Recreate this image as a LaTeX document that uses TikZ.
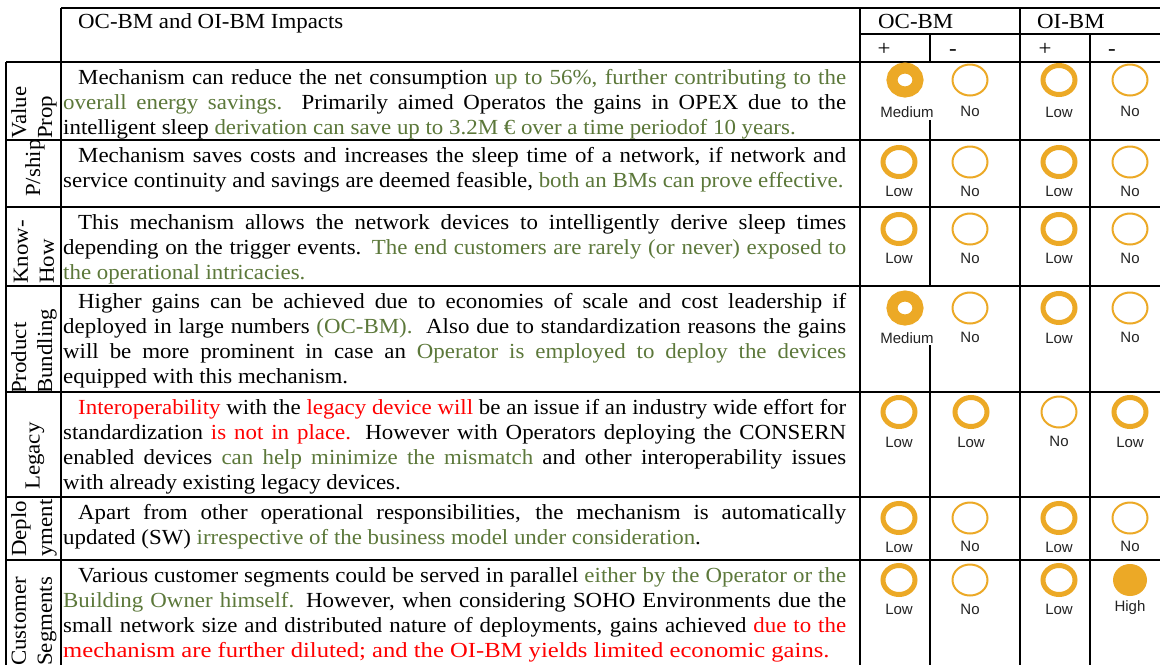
\documentclass[tikz,border=0pt]{standalone}
\usepackage{fontspec}
\setmainfont[FakeStretch=1.065]{Liberation Serif}
\newfontfamily\labfont{Liberation Sans}
\usetikzlibrary{shapes.geometric}
\definecolor{ora}{RGB}{236,169,38}
\definecolor{grn}{RGB}{92,120,58}
\definecolor{redt}{RGB}{255,0,0}
\definecolor{labc}{RGB}{35,35,35}
\newcommand{\gtx}[1]{\textcolor{grn}{#1}}
\newcommand{\rtx}[1]{\textcolor{redt}{#1}}
\newcommand{\jline}[1]{\makebox[783pt][s]{#1}}
\newcommand{\fline}[1]{\makebox[783pt][s]{\strut\hspace*{15pt}#1}}
\newcommand{\eline}[1]{\makebox[783pt][l]{#1}}
\begin{document}
\begin{tikzpicture}[x=1pt,y=-1pt,
  gridl/.style={line width=1.8pt, black},
  body/.style={anchor=north west, inner sep=0pt, align=left, font=\fontsize{21.5}{25}\selectfont},
  rowlab/.style={rotate=90, anchor=west, inner sep=0pt, align=left, font=\fontsize{21.5}{26}\selectfont},
  hdr/.style={anchor=base west, inner sep=0pt, font=\fontsize{21.5}{25}\selectfont},
  hsign/.style={anchor=base, inner sep=0pt, font=\fontsize{21.5}{25}\selectfont},
  lowc/.style={ellipse, draw=ora, line width=5pt, minimum width=32pt, minimum height=29pt, inner sep=0pt},
  noc/.style={ellipse, draw=ora, line width=2pt, minimum width=35pt, minimum height=31pt, inner sep=0pt},
  medc/.style={ellipse, draw=ora, line width=11pt, minimum width=26pt, minimum height=24pt, inner sep=0pt},
  highc/.style={ellipse, fill=ora, minimum width=34pt, minimum height=32pt, inner sep=0pt},
  lab/.style={inner sep=0pt, font=\labfont\fontsize{15}{15}\selectfont, text=labc}]
\useasboundingbox (0,0) rectangle (1160,665);
\fill[white] (0,0) rectangle (1160,665);

% grid
\draw[gridl] (61,8) -- (1160,8);
\draw[gridl] (61,8) -- (61,665);
\draw[gridl] (860,8) -- (860,665);
\draw[gridl] (1020,8) -- (1020,665);
\draw[gridl] (860,34) -- (1160,34);
\draw[gridl] (930,34) -- (930,62);
\draw[gridl] (930,120) -- (930,286);
\draw[gridl] (930,345) -- (930,665);
\draw[gridl] (1090,34) -- (1090,665);
\draw[gridl] (6,62) -- (6,665);
\foreach \yy in {62,140,207,286,392,497,560} {\draw[gridl] (6,\yy) -- (1160,\yy);}

% header
\node[hdr] (h0) at (78,28) {OC-BM and OI-BM Impacts};
\node[hdr] (h1) at (878,28) {OC-BM};
\node[hdr] (h2) at (1037,28) {OI-BM};
\node[hsign] (s1) at (884,55) {+};
\node[hsign] (s2) at (953,55) {-};
\node[hsign] (s3) at (1045,55) {+};
\node[hsign] (s4) at (1112,55) {-};

% row labels
\node[rowlab] (r1) at (34,139) {Value\\Prop};
\node[rowlab] (r2) at (35,197) {P/ship};
\node[rowlab] (r3) at (34,284) {Know-\\How};
\node[rowlab] (r4) at (34,394) {Product\\Bundling};
\node[rowlab] (r5) at (35,490) {Legacy};
\node[rowlab] (r6) at (34,557) {Deplo\\yment};
\node[rowlab] (r7) at (34,666) {Customer\\Segments};

% body texts
\node[body] (t1) at (63,66.5) {\fline{Mechanism can reduce the net consumption \gtx{up to 56\%, further contributing to the}}\\
\jline{\gtx{overall energy savings.} Primarily aimed Operatos the gains in OPEX due to the}\\
\eline{intelligent sleep \gtx{derivation can save up to 3.2M € over a time periodof 10 years.}}};
\node[body] (t2) at (63,144.5) {\fline{Mechanism saves costs and increases the sleep time of a network, if network and}\\
\eline{service continuity and savings are deemed feasible, \gtx{both an BMs can prove effective.}}};
\node[body] (t3) at (63,211.5) {\fline{This mechanism allows the network devices to intelligently derive sleep times}\\
\jline{depending on the trigger events. \gtx{The end customers are rarely (or never) exposed to}}\\
\eline{\gtx{the operational intricacies.}}};
\node[body] (t4) at (63,290.5) {\fline{Higher gains can be achieved due to economies of scale and cost leadership if}\\
\jline{deployed in large numbers \gtx{(OC-BM).}\ \ Also due to standardization reasons the gains}\\
\jline{will be more prominent in case an \gtx{Operator is employed to deploy the devices}}\\
\eline{equipped with this mechanism.}};
\node[body] (t5) at (63,396.5) {\fline{\rtx{Interoperability} with the \rtx{legacy device will} be an issue if an industry wide effort for}\\
\jline{standardization \rtx{is not in place.} However with Operators deploying the CONSERN}\\
\jline{enabled devices \gtx{can help minimize the mismatch} and other interoperability issues}\\
\eline{with already existing legacy devices.}};
\node[body] (t6) at (63,501.5) {\fline{Apart from other operational responsibilities, the mechanism is automatically}\\
\eline{updated (SW) \gtx{irrespective of the business model under consideration}.}};
\node[body] (t7) at (63,564.5) {\fline{Various customer segments could be served in parallel \gtx{either by the Operator or the}}\\
\jline{\gtx{Building Owner himself.} However, when considering SOHO Environments due the}\\
\jline{small network size and distributed nature of deployments, gains achieved \rtx{due to the}}\\
\scalebox{1.075}[1]{\rtx{mechanism are further diluted; and the OI-BM yields limited economic gains.}}};

% row 1
\node[medc] (c11) at (905,80) {};
\node[noc] (c12) at (970,80) {};
\node[lowc] (c13) at (1059,80) {};
\node[noc] (c14) at (1130,80) {};
\node[lab] (l11) at (907,112) {Medium};
\node[lab] (l12) at (970,111) {No};
\node[lab] (l13) at (1059,112) {Low};
\node[lab] (l14) at (1130,111) {No};
% row 2
\node[lowc] (c21) at (899,162) {};
\node[noc] (c22) at (970,162) {};
\node[lowc] (c23) at (1059,162) {};
\node[noc] (c24) at (1130,162) {};
\node[lab] (l21) at (899,191) {Low};
\node[lab] (l22) at (970,191) {No};
\node[lab] (l23) at (1059,191) {Low};
\node[lab] (l24) at (1130,191) {No};
% row 3
\node[lowc] (c31) at (899,229) {};
\node[noc] (c32) at (970,229) {};
\node[lowc] (c33) at (1059,229) {};
\node[noc] (c34) at (1130,229) {};
\node[lab] (l31) at (899,258) {Low};
\node[lab] (l32) at (970,258) {No};
\node[lab] (l33) at (1059,258) {Low};
\node[lab] (l34) at (1130,258) {No};
% row 4
\node[medc] (c41) at (905,308) {};
\node[noc] (c42) at (970,308) {};
\node[lowc] (c43) at (1059,308) {};
\node[noc] (c44) at (1130,308) {};
\node[lab] (l41) at (907,338) {Medium};
\node[lab] (l42) at (970,337) {No};
\node[lab] (l43) at (1059,338) {Low};
\node[lab] (l44) at (1130,337) {No};
% row 5
\node[lowc] (c51) at (899,412) {};
\node[lowc] (c52) at (971,412) {};
\node[noc] (c53) at (1059,412) {};
\node[lowc] (c54) at (1130,412) {};
\node[lab] (l51) at (899,442) {Low};
\node[lab] (l52) at (971,442) {Low};
\node[lab] (l53) at (1059,441) {No};
\node[lab] (l54) at (1130,442) {Low};
% row 6
\node[lowc] (c61) at (899,518) {};
\node[noc] (c62) at (970,518) {};
\node[lowc] (c63) at (1059,518) {};
\node[noc] (c64) at (1130,518) {};
\node[lab] (l61) at (899,547) {Low};
\node[lab] (l62) at (970,546) {No};
\node[lab] (l63) at (1059,547) {Low};
\node[lab] (l64) at (1130,546) {No};
% row 7
\node[lowc] (c71) at (899,580) {};
\node[noc] (c72) at (970,580) {};
\node[lowc] (c73) at (1059,580) {};
\node[highc] (c74) at (1130,580) {};
\node[lab] (l71) at (899,609) {Low};
\node[lab] (l72) at (970,609) {No};
\node[lab] (l73) at (1059,609) {Low};
\node[lab] (l74) at (1130,608) {High};
\end{tikzpicture}
\end{document}
